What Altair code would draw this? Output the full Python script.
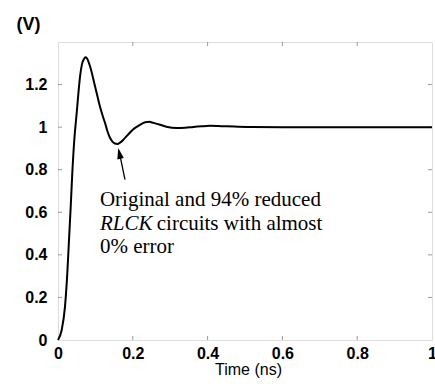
import altair as alt
import pandas as pd

# Curve readings: time (ns) and voltage (V)
t_ns = [0, 0.0099, 0.0187, 0.0249, 0.0294, 0.034, 0.0382, 0.0436, 0.05, 0.059,
        0.064, 0.070, 0.0735, 0.077, 0.0856, 0.099, 0.1055, 0.112, 0.119, 0.126,
        0.132, 0.139, 0.145, 0.152, 0.159, 0.166, 0.177, 0.188, 0.20,
        0.215, 0.233, 0.244, 0.255, 0.273, 0.29, 0.317, 0.34, 0.362, 0.384,
        0.406, 0.451, 0.505, 0.6, 0.7, 0.8, 0.9, 1.0]
volts = [0, 0.047, 0.157, 0.314, 0.47, 0.627, 0.784, 0.941, 1.067, 1.239,
         1.295, 1.322, 1.328, 1.324, 1.286, 1.192, 1.145, 1.098, 1.056, 1.018,
         0.982, 0.950, 0.933, 0.923, 0.921, 0.927, 0.945, 0.966, 0.988,
         1.006, 1.023, 1.025, 1.020, 1.011, 1.002, 0.996, 0.997, 1.001, 1.004,
         1.006, 1.004, 1.001, 1.0, 1.0, 1.0, 1.0, 1.0]

x_ticks = [0.2, 0.4, 0.6, 0.8]
y_ticks = [0.2, 0.4, 0.6, 0.8, 1.0, 1.2]
x_tick_labels = [0, 0.2, 0.4, 0.6, 0.8, 1]
y_tick_labels = [0, 0.2, 0.4, 0.6, 0.8, 1, 1.2]

# Annotation text (data coordinates)
note_x = [0.112, 0.264, 0.112]
note_y = [0.6306, 0.5147, 0.408]
note_text = ["Original and 94% reduced", "circuits with almost", "0% error"]
italic_x = [0.112]
italic_y = [0.5147]
italic_text = ["RLCK"]

# Arrow (tail -> base of head) and head center
arrow_x = [0.1791, 0.1668]
arrow_y = [0.753, 0.858]
head_x = [0.1642]
head_y = [0.8767]

W, H = 374, 298

curve_df = pd.DataFrame({"t": t_ns, "v": volts})
xt_df = pd.DataFrame({"t": x_ticks})
yt_df = pd.DataFrame({"v": y_ticks})

xs = alt.Scale(domain=[0, 1], nice=False, zero=False)
ys = alt.Scale(domain=[0, 1.4], nice=False, zero=False)

lab_font = "Liberation Sans, Arial, sans-serif"
serif_font = "'Liberation Serif', 'Times New Roman', 'DejaVu Serif', serif"

line = alt.Chart(curve_df).mark_line(
    color="black", strokeWidth=2, interpolate="monotone"
).encode(
    x=alt.X("t:Q", scale=xs, axis=alt.Axis(
        values=x_tick_labels, format="~g", title="Time (ns)",
        labelFont=lab_font, labelFontSize=16, labelFontWeight="bold",
        labelColor="black", labelPadding=5, ticks=False, domain=False, grid=False,
        titleFont=lab_font, titleFontSize=16, titleFontWeight="normal",
        titleColor="black", titleX=190, titleY=34, titleBaseline="alphabetic",
        labelFlush=False, labelOverlap=False)),
    y=alt.Y("v:Q", scale=ys, axis=alt.Axis(
        values=y_tick_labels, format="~g", title="(V)",
        labelFont=lab_font, labelFontSize=16, labelFontWeight="bold",
        labelColor="black", labelPadding=11, ticks=False, domain=False, grid=False,
        titleFont=lab_font, titleFontSize=18, titleFontWeight="bold",
        titleColor="black", titleAngle=0, titleX=-30, titleY=-18,
        titleAlign="center", titleBaseline="middle",
        labelFlush=False, labelOverlap=False)),
)

tick_color = "#999999"
xt_bottom = alt.Chart(xt_df).mark_rule(color=tick_color, strokeWidth=1).encode(
    x="t:Q", y=alt.value(H), y2=alt.value(H - 4))
xt_top = alt.Chart(xt_df).mark_rule(color=tick_color, strokeWidth=1).encode(
    x="t:Q", y=alt.value(0), y2=alt.value(4))
yt_left = alt.Chart(yt_df).mark_rule(color=tick_color, strokeWidth=1).encode(
    y="v:Q", x=alt.value(0), x2=alt.value(4))
yt_right = alt.Chart(yt_df).mark_rule(color=tick_color, strokeWidth=1).encode(
    y="v:Q", x=alt.value(W), x2=alt.value(W - 4))

note_df = pd.DataFrame({"x": note_x, "y": note_y, "text": note_text})
ital_df = pd.DataFrame({"x": italic_x, "y": italic_y, "text": italic_text})

notes = alt.Chart(note_df).mark_text(
    font=serif_font, fontSize=21, align="left", baseline="alphabetic",
    color="black").encode(x="x:Q", y="y:Q", text="text:N")
ital = alt.Chart(ital_df).mark_text(
    font=serif_font, fontSize=21, fontStyle="italic", align="left",
    baseline="alphabetic", color="black").encode(x="x:Q", y="y:Q", text="text:N")

arrow_df = pd.DataFrame({"x": arrow_x, "y": arrow_y})
shaft = alt.Chart(arrow_df).mark_line(color="black", strokeWidth=1.3).encode(
    x="x:Q", y="y:Q")
head_df = pd.DataFrame({"x": head_x, "y": head_y})
head = alt.Chart(head_df).mark_point(
    shape="M0,-1L0.6,1L-0.6,1Z", filled=True, color="black", opacity=1,
    size=121, angle=348).encode(x="x:Q", y="y:Q")

chart = alt.layer(
    xt_bottom, xt_top, yt_left, yt_right, line, shaft, head, notes, ital
).properties(
    width=W, height=H,
    autosize=alt.AutoSizeParams(type="none"),
    padding={"left": 58, "top": 42, "right": 3, "bottom": 44},
).configure_view(stroke="#999999", strokeWidth=1).configure(background="white")

chart.save("out.html", embed_options={"renderer": "svg", "actions": False})
